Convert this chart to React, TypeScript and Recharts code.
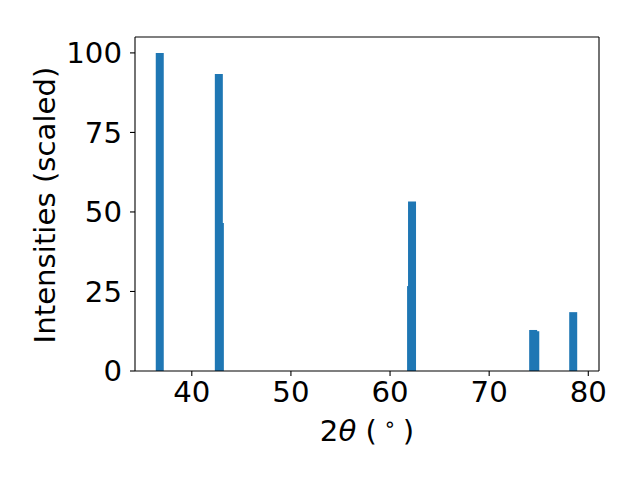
import React from 'react';
import { ComposedChart, Bar, XAxis, YAxis, ReferenceLine } from 'recharts';

// peak positions (2 theta, degrees) and scaled intensities
// main component (Ka1) and the weaker shoulder component (Ka2)
const twoThetaA = [36.77, 42.73, 62.22, 74.44, 78.48];
const intensityA = [100, 93.4, 53.3, 12.9, 18.5];
const twoThetaB = [36.77, 42.83, 62.12, 74.65, 78.48];
const intensityB = [0, 46.5, 26.7, 12.5, 0];

const xTicks = [40, 50, 60, 70, 80];
const yTicks = [0, 25, 50, 75, 100];
const xDomain = [34.27, 81.08];
const yDomain = [0, 105];

const BLUE = '#1f77b4';
const FONT = 'DejaVu Sans, sans-serif';
const FS = 29.2;

const rows = twoThetaA.map((x, i) => ({
  xa: x,
  ia: intensityA[i],
  xb: twoThetaB[i],
  ib: intensityB[i] > 0 ? intensityB[i] : null,
}));

function XLabel() {
  return (
    <text x={367} y={441} textAnchor="middle" fontFamily={FONT} fontSize={FS} fill="#000">
      <tspan>2</tspan>
      <tspan fontStyle="italic">θ</tspan>
      <tspan> (</tspan>
      <tspan dy={-10} fontSize={FS * 0.7}> ∘ </tspan>
      <tspan dy={10}>)</tspan>
    </text>
  );
}

function YLabel() {
  const x = 55;
  const cy = 205;
  return (
    <text
      x={x}
      y={cy}
      textAnchor="middle"
      fontFamily={FONT}
      fontSize={FS}
      fill="#000"
      transform={`rotate(-90, ${x}, ${cy})`}
    >
      Intensities (scaled)
    </text>
  );
}

const tickStyle = { fontFamily: FONT, fontSize: FS, fill: '#000' };
const axisLine = { stroke: '#000', strokeWidth: 1.1 };

export default function App() {
  return (
    <div style={{ position: 'absolute', left: 0, top: 0, width: 640, height: 480, background: '#fff' }}>
      <ComposedChart
        width={640}
        height={480}
        data={rows}
        margin={{ top: 37, right: 41, left: 0, bottom: 0 }}
      >
        <XAxis
          xAxisId="a"
          dataKey="xa"
          type="number"
          domain={xDomain}
          ticks={xTicks}
          allowDataOverflow
          height={109}
          tick={tickStyle}
          tickSize={5}
          tickMargin={5}
          axisLine={axisLine}
          tickLine={axisLine}
          label={<XLabel />}
        />
        <XAxis
          xAxisId="b"
          dataKey="xb"
          type="number"
          orientation="top"
          domain={xDomain}
          allowDataOverflow
          hide
        />
        <YAxis
          type="number"
          domain={yDomain}
          ticks={yTicks}
          allowDataOverflow
          width={135}
          tick={tickStyle}
          tickSize={5}
          tickMargin={8}
          axisLine={axisLine}
          tickLine={axisLine}
          label={<YLabel />}
        />
        <Bar xAxisId="b" dataKey="ib" fill={BLUE} barSize={8} isAnimationActive={false} />
        <Bar xAxisId="a" dataKey="ia" fill={BLUE} barSize={8} isAnimationActive={false} />
        {/* top and right spines */}
        <ReferenceLine xAxisId="a" y={yDomain[1]} stroke="#000" strokeWidth={1.1} />
        <ReferenceLine xAxisId="a" x={xDomain[1]} stroke="#000" strokeWidth={1.1} />
      </ComposedChart>
    </div>
  );
}
